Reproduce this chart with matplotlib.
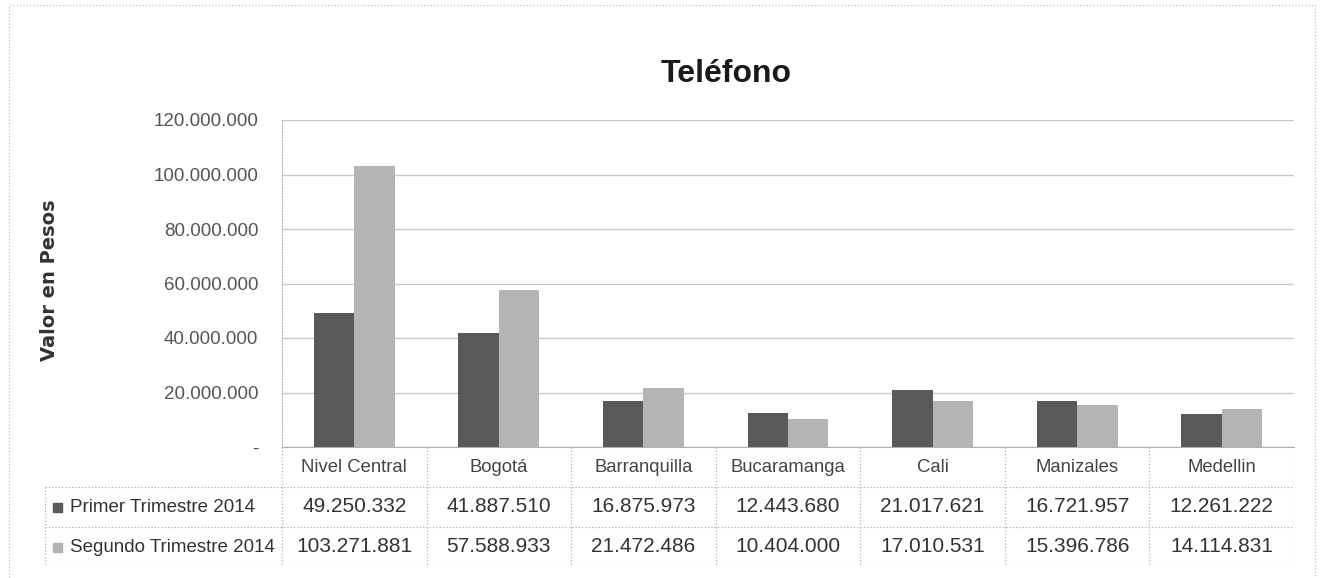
import matplotlib
matplotlib.use("Agg")
import matplotlib.pyplot as plt
from matplotlib.patches import Rectangle
import numpy as np

# ---- data ----
categorias = ["Nivel Central", "Bogotá", "Barranquilla", "Bucaramanga",
              "Cali", "Manizales", "Medellin"]
primer_trim = [49250332, 41887510, 16875973, 12443680, 21017621, 16721957, 12261222]
segundo_trim = [103271881, 57588933, 21472486, 10404000, 17010531, 15396786, 14114831]
series_nombres = ["Primer Trimestre 2014", "Segundo Trimestre 2014"]
y_ticks = [0, 20000000, 40000000, 60000000, 80000000, 100000000, 120000000]

col_oscuro = "#595959"
col_claro = "#b4b4b4"
col_linea = "#b0b0b0"
FAM = ["Liberation Sans", "DejaVu Sans"]

def miles(v):
    # formato con punto como separador de miles
    return f"{v:,.0f}".replace(",", ".")

W, H = 1323, 578
fig = plt.figure(figsize=(W / 100, H / 100), dpi=100)
fig.patch.set_facecolor("white")

# layout en pixeles
px_left, px_right = 282, 1294
px_top, px_axis, px_bottom = 120, 447, 567
px_tab_left = 45
ncat = len(categorias)
cat_w = (px_right - px_left) / ncat

ax = fig.add_axes([px_left / W, (H - px_axis) / H,
                   (px_right - px_left) / W, (px_axis - px_top) / H])
x = np.arange(ncat)
bw = 0.28
ax.bar(x - bw / 2, primer_trim, width=bw, color=col_oscuro, zorder=3)
ax.bar(x + bw / 2, segundo_trim, width=bw, color=col_claro, zorder=3)
ax.set_xlim(-0.5, ncat - 0.5)
ax.set_ylim(0, 120000000)
ax.set_yticks(y_ticks)
ax.set_yticklabels(["-"] + [miles(v) for v in y_ticks[1:]],
                   family=FAM, fontsize=13.5, color="#555555")
ax.tick_params(axis="y", length=0, pad=17)
ax.set_xticks([])
ax.grid(axis="y", color="#c8c8c8", linewidth=1.0, zorder=0)
for s in ["top", "right"]:
    ax.spines[s].set_visible(False)
ax.spines["left"].set_color(col_linea)
ax.spines["left"].set_linestyle(":")
ax.spines["bottom"].set_color(col_linea)

# ---- tabla de datos ----
tax = fig.add_axes([px_tab_left / W, (H - px_bottom) / H,
                    (px_right - px_tab_left) / W, (px_bottom - px_axis) / H])
x_left = -0.5 - (px_left - px_tab_left) / cat_w
tax.set_xlim(x_left, ncat - 0.5)
tax.set_ylim(3, 0)
tax.axis("off")
ls = dict(color=col_linea, linestyle=":", linewidth=0.9)
for k in range(ncat + 1):
    tax.plot([k - 0.5, k - 0.5], [0, 3], **ls)
for r in [1, 2, 3]:
    tax.plot([x_left, ncat - 0.5], [r, r], **ls)
tax.plot([x_left, x_left], [1, 3], **ls)

for i, c in enumerate(categorias):
    tax.text(i, 0.5, c, ha="center", va="center", family=FAM,
             fontsize=13.3, color="#444444")
    tax.text(i, 1.5, miles(primer_trim[i]), ha="center", va="center",
             family=FAM, fontsize=15, color="#333333")
    tax.text(i, 2.5, miles(segundo_trim[i]), ha="center", va="center",
             family=FAM, fontsize=15, color="#333333")

sq_w = 9 / cat_w
sq_h = 9 / ((px_bottom - px_axis) / 3)
for r, (nombre, col) in enumerate(zip(series_nombres, [col_oscuro, col_claro])):
    tax.add_patch(Rectangle((x_left + 8 / cat_w, 1.5 + r - sq_h / 2), sq_w, sq_h,
                            color=col))
    tax.text(x_left + 25 / cat_w, 1.5 + r, nombre, ha="left", va="center",
             family=FAM, fontsize=13.5, color="#333333")

# ---- titulos ----
fig.text(726 / W, (H - 82) / H, "Teléfono", ha="center", va="baseline",
         family=FAM, fontsize=23, fontweight="bold", color="#1a1a1a")
fig.text(50 / W, (H - 280) / H, "Valor en Pesos", ha="center", va="center",
         rotation=90, fontsize=14, fontweight="bold", color="#333333")

# marco exterior
frame = Rectangle((9 / W, -0.01), (1315 - 9) / W, (H - 5) / H + 0.01,
                  transform=fig.transFigure, fill=False,
                  edgecolor="#c0c0c0", linestyle=":", linewidth=0.9)
fig.patches.append(frame)

fig.savefig("out.png", dpi=100, facecolor="white")
